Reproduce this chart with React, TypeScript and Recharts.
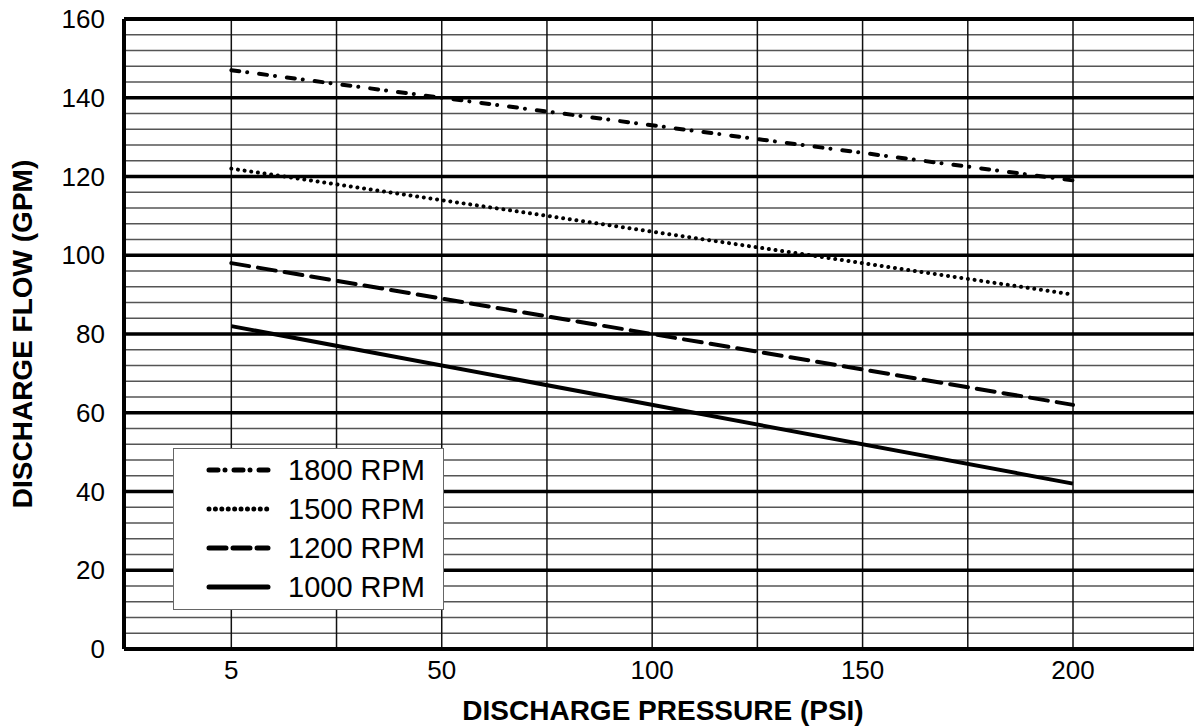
import { CartesianGrid, Label, Legend, Line, LineChart, ReferenceLine, XAxis, YAxis } from 'recharts'

// pressure grid is evenly spaced (5 sits where 0 would be)
const gridPressures = [5, 25, 50, 75, 100, 125, 150, 175, 200]
const labelledPressures = [5, 50, 100, 150, 200]
const flowTicks = [0, 20, 40, 60, 80, 100, 120, 140, 160]
const flowMinor = [0, 4, 8, 12, 16, 20, 24, 28, 32, 36, 40, 44, 48, 52, 56, 60, 64, 68, 72, 76, 80, 84, 88, 92, 96, 100, 104, 108, 112, 116, 120, 124, 128, 132, 136, 140, 144, 148, 152, 156, 160]

const pressures = [5, 200]
const rpm1800 = [147, 119]
const rpm1500 = [122, 90]
const rpm1200 = [98, 62]
const rpm1000 = [82, 42]

const rows = pressures.map((p, i) => ({
  pos: gridPressures.indexOf(p),
  pressure: p,
  r1800: rpm1800[i],
  r1500: rpm1500[i],
  r1200: rpm1200[i],
  r1000: rpm1000[i],
}))

const series = [
  { key: 'r1800', name: '1800 RPM', dash: '8 8 0.01 12', legendDash: '9 7 0.01 9' },
  { key: 'r1500', name: '1500 RPM', dash: '0.01 6.7', legendDash: '0.01 6.4' },
  { key: 'r1200', name: '1200 RPM', dash: '18 9', legendDash: '17 7' },
  { key: 'r1000', name: '1000 RPM', dash: undefined, legendDash: undefined },
]

const FONT = '"Liberation Sans", Arial, Helvetica, sans-serif'

function LegendBox() {
  return (
    <div style={{ width: 271, height: 162, boxSizing: 'border-box', border: '1.5px solid #666', background: '#fff', fontFamily: FONT }}>
      {series.map((s, i) => (
        <div key={s.key} style={{ position: 'absolute', left: 0, top: 22 + i * 39 - 16, height: 32, display: 'flex', alignItems: 'center' }}>
          <svg width={110} height={12} style={{ display: 'block' }}>
            <line x1={36} x2={95} y1={6} y2={6} stroke="#000" strokeWidth={5}
              strokeDasharray={s.legendDash} strokeLinecap="round" />
          </svg>
          <span style={{ marginLeft: 5, fontSize: 29, color: '#000', lineHeight: '32px' }}>{s.name}</span>
        </div>
      ))}
    </div>
  )
}

export default function App() {
  return (
    <div style={{ position: 'absolute', left: 0, top: 0 }}>
      <LineChart width={1194} height={728} data={rows} margin={{ top: 19, right: 0, bottom: 0, left: 0 }}
        style={{ fontFamily: FONT }}>
        <CartesianGrid horizontal={true} vertical={false} horizontalValues={flowMinor} stroke="#555" strokeWidth={1.5} />
        <CartesianGrid horizontal={false} vertical={true} stroke="#111" strokeWidth={1.5} />
        <XAxis dataKey="pos" type="number" domain={[-1.02, 9.15]} allowDataOverflow
          ticks={[0, 1, 2, 3, 4, 5, 6, 7, 8]} tickFormatter={(v: number) => (labelledPressures.includes(gridPressures[v]) ? String(gridPressures[v]) : '')}
          axisLine={{ stroke: '#000', strokeWidth: 4 }} tickLine={false} tickSize={6} tickMargin={6}
          tick={{ fill: '#000', fontSize: 26 }} height={79}>
          <Label content={() => (
            <text x={663} y={720} textAnchor="middle" fontSize={28} fontWeight="bold" fill="#000" fontFamily={FONT}>
              DISCHARGE PRESSURE (PSI)
            </text>
          )} />
        </XAxis>
        <YAxis type="number" domain={[0, 160]} ticks={flowTicks} interval={0}
          axisLine={{ stroke: '#000', strokeWidth: 4 }} tickLine={false} tickSize={6} tickMargin={13}
          tick={{ fill: '#000', fontSize: 26 }} width={124}>
          <Label content={() => (
            <text x={0} y={0} transform="translate(32 334) rotate(-90)" textAnchor="middle" fontSize={28} fontWeight="bold" fill="#000" fontFamily={FONT}>
              DISCHARGE FLOW (GPM)
            </text>
          )} />
        </YAxis>
        {flowTicks.slice(1, -1).map((v) => (
          <ReferenceLine key={v} y={v} stroke="#000" strokeWidth={3.5} />
        ))}
        <ReferenceLine y={160} stroke="#000" strokeWidth={4} />
        {series.map((s) => (
          <Line key={s.key} dataKey={s.key} name={s.name} stroke="#000" strokeWidth={4}
            strokeDasharray={s.dash} strokeLinecap={s.dash ? 'round' : 'butt'}
            dot={false} activeDot={false} isAnimationActive={false} />
        ))}
        <Legend layout="vertical" align="center" verticalAlign="middle"
          wrapperStyle={{ position: 'absolute', left: 173, top: 448, width: 271 }}
          content={() => <LegendBox />} />
      </LineChart>
    </div>
  )
}
